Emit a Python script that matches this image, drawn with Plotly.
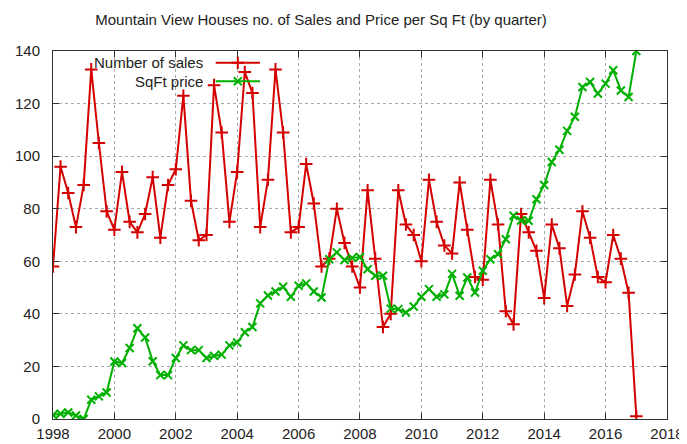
import pandas as pd
import plotly.graph_objects as go

quarters = pd.date_range("1998-01-01", periods=77, freq="QS").strftime("%Y-%m-%d").tolist()

sales = [58, 96, 86, 73, 89, 133, 105, 79, 72, 94, 75, 71, 78, 92, 69, 89, 95, 123, 83, 68,
         70, 127, 109, 75, 94, 132, 124, 73, 91, 133, 109, 71, 73, 97, 82, 58, 61, 80, 67, 58,
         50, 87, 61, 35, 40, 87, 74, 70, 60, 91, 75, 66, 63, 90, 72, 54, 53, 91, 74, 41,
         36, 78, 71, 64, 46, 74, 65, 43, 55, 79, 69, 54, 52, 70, 61, 48, 1]

sqft_price = [1.5, 2, 2.5, 1.3, 0, 7.3, 8.6, 10.1, 21.9, 21.3, 27, 34.5, 31, 22, 16.7, 16.7, 23.2, 28, 26.2, 26.2,
              23.2, 24, 24.5, 28, 29.1, 33, 35, 44, 47, 48.5, 50.3, 46.5, 50.7, 51.6, 48.5, 46.2, 60.8, 63.4, 60.5, 61.3,
              61.6, 57, 54.5, 54.5, 42, 41.8, 40.5, 42.8, 46.5, 49.4, 46.5, 47.4, 55.2, 46.9, 53.8, 48.1, 56.4, 60.8, 62.7, 68.4,
              77.3, 75.5, 75.4, 83.6, 89, 97.8, 102.4, 109.6, 115, 126.3, 128.2, 123.8, 127.6, 132.7, 125, 122.5, 140]

series_names = ["Number of sales", "SqFt price"]
title_text = "Mountain View Houses no. of Sales and Price per Sq Ft (by quarter)"

RED = "#d40000"
GREEN = "#00b000"
FONT = "Liberation Sans, Arial, sans-serif"
FS = 15

fig = go.Figure()
fig.add_trace(go.Scatter(
    x=quarters, y=sales, mode="lines+markers", name=series_names[0],
    line=dict(color=RED, width=2),
    marker=dict(symbol="cross-thin", size=9, color=RED, line=dict(color=RED, width=2)),
    showlegend=False))
fig.add_trace(go.Scatter(
    x=quarters, y=sqft_price, mode="lines+markers", name=series_names[1],
    line=dict(color=GREEN, width=2),
    marker=dict(symbol="x-thin", size=8, color=GREEN, line=dict(color=GREEN, width=2)),
    showlegend=False))

# custom gnuplot-style key (text, then sample line with marker)
key_rows = [(0.968, RED, "cross-thin", 9), (0.918, GREEN, "x-thin", 8)]
for (yk, col, sym, sz), name in zip(key_rows, series_names):
    fig.add_shape(type="line", xref="paper", yref="paper", x0=0.265, x1=0.337, y0=yk, y1=yk,
                  line=dict(color=col, width=2))
    fig.add_trace(go.Scatter(x=[0.301], y=[yk], xaxis="x2", yaxis="y2", mode="markers",
                             marker=dict(symbol=sym, size=sz, color=col, line=dict(color=col, width=2)),
                             showlegend=False, hoverinfo="skip"))
    fig.add_annotation(xref="paper", yref="paper", x=0.247, y=yk, text=name, showarrow=False,
                       xanchor="right", yanchor="middle", font=dict(size=FS, color="#222", family=FONT))

axis_common = dict(
    showline=True, linecolor="#333", linewidth=1, mirror="ticks",
    ticks="inside", ticklen=6, tickcolor="#333",
    showgrid=True, gridcolor="#a8a8a8", griddash="dot", gridwidth=1,
    zeroline=False, automargin=False, tickfont=dict(size=FS, color="#222", family=FONT),
)

# page body has an 8px margin, so the figure is sized to fit the 687x444 window
fig.update_layout(
    width=679, height=436,
    margin=dict(l=45, r=20, t=43, b=25),
    paper_bgcolor="white", plot_bgcolor="white",
    font=dict(family=FONT, size=FS, color="#222"),
    title=dict(text=title_text, x=0.461, xref="container", xanchor="center", y=0.9725, yanchor="middle",
               font=dict(size=FS, color="#222", family=FONT)),
    xaxis=dict(type="date", range=["1998-01-01", "2018-01-01"], dtick="M24", tick0="1998-01-01",
               tickformat="%Y", ticklabelstandoff=1, **axis_common),
    yaxis=dict(range=[0, 140], dtick=20, ticklabelstandoff=9, **axis_common),
    xaxis2=dict(overlaying="x", range=[0, 1], visible=False),
    yaxis2=dict(overlaying="y", range=[0, 1], visible=False),
)

fig.write_html("out.html")
